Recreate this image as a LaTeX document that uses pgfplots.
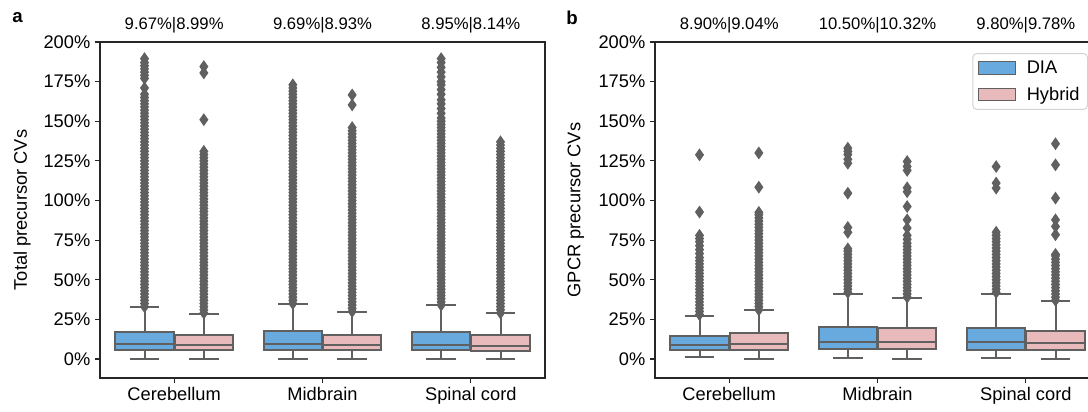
\documentclass[border=0pt]{standalone}
\usepackage{fontspec}
\setmainfont{Liberation Sans}
\usepackage{pgfplots}
\pgfplotsset{compat=1.18}
\usepgfplotslibrary{statistics}
\definecolor{diablue}{RGB}{104,170,222}
\definecolor{hybpink}{RGB}{232,186,188}
\definecolor{boxgray}{RGB}{96,96,96}
\definecolor{legframe}{RGB}{210,210,210}
\newcommand{\fs}{\fontsize{13.7}{16}\selectfont}
\newcommand{\fh}{\fontsize{12.5}{15}\selectfont}
\pgfdeclareplotmark{tdiam}{%
  \pgfpathmoveto{\pgfqpoint{0pt}{4.85pt}}%
  \pgfpathlineto{\pgfqpoint{3.4pt}{0pt}}%
  \pgfpathlineto{\pgfqpoint{0pt}{-4.85pt}}%
  \pgfpathlineto{\pgfqpoint{-3.4pt}{0pt}}%
  \pgfpathclose\pgfusepathqfill}
\pgfplotsset{
  cvaxis/.style={
    scale only axis, width=333.75pt, height=252pt,
    xmin=-0.5, xmax=2.5, ymin=-12, ymax=200,
    xtick={0,1,2}, xticklabels={Cerebellum,Midbrain,Spinal cord},
    ytick={0,25,...,200},
    yticklabels={0\%,25\%,50\%,75\%,100\%,125\%,150\%,175\%,200\%},
    xtick pos=bottom, ytick pos=left, tick align=outside,
    major tick length=3.75pt,
    tick style={line width=0.9pt, color=black!85},
    axis line style={line width=0.9pt, black!85},
    tick label style={font=\fs},
    label style={font=\fs},
    clip=false,
    anchor=south west,
  },
  cvbox/.style 2 args={boxplot prepared={#1, draw direction=y, box extend=0.392, whisker extend=0.2},
    draw=boxgray, line width=1.5pt, fill=#2, solid, forget plot, mark=none},
  outl/.style={only marks, mark=tdiam, color=boxgray, fill=boxgray, forget plot},
}
\begin{document}
\begin{tikzpicture}
% ---------------- panel a ----------------
\begin{axis}[cvaxis, at={(75pt,24.75pt)}, ylabel={Total precursor CVs},
  ylabel style={at={(axis description cs:-0.175,0.5)}, anchor=center}]
\addplot[outl] table[header=false,row sep=\\,x expr=-0.2,y index=0]{33\\35\\37\\39\\41\\43\\45\\47\\49\\51\\53\\55\\57\\59\\61\\63\\65\\67\\69\\71\\73\\75\\77\\79\\81\\83\\85\\87\\89\\91\\93\\95\\97\\99\\101\\103\\105\\107\\109\\111\\113\\115\\117\\119\\121\\123\\125\\127\\129\\131\\133\\135\\137\\139\\141\\143\\145\\147\\149\\151\\153\\155\\157\\159\\161\\163\\165\\167\\171\\177\\179\\181\\183\\185\\187\\189.5\\};
\addplot[outl] table[header=false,row sep=\\,x expr=0.2,y index=0]{29\\31\\33\\35\\37\\39\\41\\43\\45\\47\\49\\51\\53\\55\\57\\59\\61\\63\\65\\67\\69\\71\\73\\75\\77\\79\\81\\83\\85\\87\\89\\91\\93\\95\\97\\99\\101\\103\\105\\107\\109\\111\\113\\115\\117\\119\\121\\123\\125\\127\\129\\131\\151\\180.5\\184.5\\};
\addplot[outl] table[header=false,row sep=\\,x expr=0.8,y index=0]{35\\37\\39\\41\\43\\45\\47\\49\\51\\53\\55\\57\\59\\61\\63\\65\\67\\69\\71\\73\\75\\77\\79\\81\\83\\85\\87\\89\\91\\93\\95\\97\\99\\101\\103\\105\\107\\109\\111\\113\\115\\117\\119\\121\\123\\125\\127\\129\\131\\133\\135\\137\\139\\141\\143\\145\\147\\149\\151\\153\\155\\157\\159\\161\\163\\165\\167\\169\\171\\173\\};
\addplot[outl] table[header=false,row sep=\\,x expr=1.2,y index=0]{30\\32\\34\\36\\38\\40\\42\\44\\46\\48\\50\\52\\54\\56\\58\\60\\62\\64\\66\\68\\70\\72\\74\\76\\78\\80\\82\\84\\86\\88\\90\\92\\94\\96\\98\\100\\102\\104\\106\\108\\110\\112\\114\\116\\118\\120\\122\\124\\126\\128\\130\\132\\134\\136\\138\\140\\142\\144\\146\\160.3\\166.6\\};
\addplot[outl] table[header=false,row sep=\\,x expr=1.8,y index=0]{34\\36\\38\\40\\42\\44\\46\\48\\50\\52\\54\\56\\58\\60\\62\\64\\66\\68\\70\\72\\74\\76\\78\\80\\82\\84\\86\\88\\90\\92\\94\\96\\98\\100\\102\\104\\106\\108\\110\\112\\114\\116\\118\\120\\122\\124\\126\\128\\130\\132\\134\\136\\138\\140\\142\\144\\146\\148\\150\\152\\155\\158\\161\\163.5\\167\\170\\173\\175\\178\\181\\184\\187\\189.5\\};
\addplot[outl] table[header=false,row sep=\\,x expr=2.2,y index=0]{29\\31\\33\\35\\37\\39\\41\\43\\45\\47\\49\\51\\53\\55\\57\\59\\61\\63\\65\\67\\69\\71\\73\\75\\77\\79\\81\\83\\85\\87\\89\\91\\93\\95\\97\\99\\101\\103\\105\\107\\109\\111\\113\\115\\117\\119\\121\\123\\125\\127\\129\\131\\133\\135\\137\\};
\addplot[cvbox={draw position=-0.2, lower whisker=0.2, lower quartile=5.9, median=9.67, upper quartile=16.8, upper whisker=32.8}{diablue}] coordinates {};
\addplot[cvbox={draw position=0.2, lower whisker=0.2, lower quartile=5.9, median=8.6, upper quartile=15.1, upper whisker=28.6}{hybpink}] coordinates {};
\addplot[cvbox={draw position=0.8, lower whisker=0.2, lower quartile=5.9, median=9.6, upper quartile=17.4, upper whisker=34.7}{diablue}] coordinates {};
\addplot[cvbox={draw position=1.2, lower whisker=0.2, lower quartile=5.9, median=9.0, upper quartile=15.3, upper whisker=29.6}{hybpink}] coordinates {};
\addplot[cvbox={draw position=1.8, lower whisker=0.2, lower quartile=5.4, median=8.6, upper quartile=16.8, upper whisker=34.2}{diablue}] coordinates {};
\addplot[cvbox={draw position=2.2, lower whisker=0.2, lower quartile=4.8, median=8.0, upper quartile=14.9, upper whisker=29.0}{hybpink}] coordinates {};
\node[font=\fh, yshift=12.75pt] at (axis cs:0,200) {9.67\%|8.99\%};
\node[font=\fh, yshift=12.75pt] at (axis cs:1,200) {9.69\%|8.93\%};
\node[font=\fh, yshift=12.75pt] at (axis cs:2,200) {8.95\%|8.14\%};
\end{axis}
% ---------------- panel b ----------------
\begin{axis}[cvaxis, at={(491.25pt,24.75pt)}, ylabel={GPCR precursor CVs},
  ylabel style={at={(axis description cs:-0.178,0.5)}, anchor=center},
  legend image code/.code={\draw[#1, sharp corners, line width=0.75pt, draw=boxgray] (0pt,-4.75pt) rectangle (27.75pt,4.75pt);},
  legend cell align=left,
  legend style={at={(rel axis cs:0.713,0.967)}, anchor=north west, draw=legframe,
    rounded corners=3pt, line width=0.75pt, font=\fs, inner xsep=4pt, inner ysep=3.5pt,
    row sep=4.5pt, /tikz/every odd column/.append style={column sep=6pt}}]
\addplot[outl] table[header=false,row sep=\\,x expr=-0.2,y index=0]{28\\30\\32\\34\\36\\38\\40\\42\\44\\46\\48\\50\\52\\54\\56\\58\\60\\62\\64\\66.5\\69\\71.5\\74\\76\\78\\92.7\\128.8\\};
\addplot[outl] table[header=false,row sep=\\,x expr=0.2,y index=0]{31\\33\\35\\37\\39\\41\\43\\45\\47\\49\\51\\53\\55\\57\\59\\61\\63\\65\\67\\69\\71\\73\\75\\77\\79\\81\\83\\85\\87\\89\\91\\92.5\\108.4\\130\\};
\addplot[outl] table[header=false,row sep=\\,x expr=0.8,y index=0]{42\\44\\46\\48\\50\\52\\54\\56\\58\\60\\62\\64\\66\\68\\69.5\\79.9\\83\\104.6\\123.5\\126\\129\\131\\133\\};
\addplot[outl] table[header=false,row sep=\\,x expr=1.2,y index=0]{39\\41\\43\\45\\47\\49\\51\\53\\55\\57\\59\\61\\63\\65\\67\\69\\71\\73\\75.5\\78\\82.6\\87.8\\96.2\\105.5\\108\\119\\121.5\\124.6\\};
\addplot[outl] table[header=false,row sep=\\,x expr=1.8,y index=0]{42\\44\\46\\48\\50\\52\\54\\56\\58\\60\\62\\64\\66\\68\\70\\72\\74\\76\\78\\80\\107.8\\111\\121.4\\};
\addplot[outl] table[header=false,row sep=\\,x expr=2.2,y index=0]{37\\39\\41\\43\\45\\47\\49\\51\\53\\55\\57\\59\\61\\63\\65\\66\\78.4\\83.6\\87.8\\101.5\\122.5\\135.8\\};
\addplot[cvbox={draw position=-0.2, lower whisker=1.3, lower quartile=5.9, median=8.6, upper quartile=14.7, upper whisker=27.3}{diablue}] coordinates {};
\addplot[cvbox={draw position=0.2, lower whisker=0.2, lower quartile=5.9, median=9.6, upper quartile=16.4, upper whisker=30.6}{hybpink}] coordinates {};
\addplot[cvbox={draw position=0.8, lower whisker=0.5, lower quartile=6.3, median=10.9, upper quartile=20.4, upper whisker=41.2}{diablue}] coordinates {};
\addplot[cvbox={draw position=1.2, lower whisker=0.2, lower quartile=6.3, median=10.7, upper quartile=19.3, upper whisker=38.5}{hybpink}] coordinates {};
\addplot[cvbox={draw position=1.8, lower whisker=0.5, lower quartile=5.9, median=10.5, upper quartile=19.7, upper whisker=41.2}{diablue}] coordinates {};
\addplot[cvbox={draw position=2.2, lower whisker=0.2, lower quartile=5.6, median=10.3, upper quartile=17.6, upper whisker=36.3}{hybpink}] coordinates {};
\addlegendimage{fill=diablue}
\addlegendentry{DIA}
\addlegendimage{fill=hybpink}
\addlegendentry{Hybrid}
\node[font=\fh, yshift=12.75pt] at (axis cs:0,200) {8.90\%|9.04\%};
\node[font=\fh, yshift=12.75pt] at (axis cs:1,200) {10.50\%|10.32\%};
\node[font=\fh, yshift=12.75pt] at (axis cs:2,200) {9.80\%|9.78\%};
\end{axis}
\node[font=\fontsize{14}{16}\selectfont\bfseries] at (13.1pt,294.75pt) {a};
\node[font=\fontsize{14}{16}\selectfont\bfseries] at (429pt,294.75pt) {b};
\pgfresetboundingbox
\path[use as bounding box] (0pt,0pt) rectangle (816pt,308.25pt);
\end{tikzpicture}
\end{document}
